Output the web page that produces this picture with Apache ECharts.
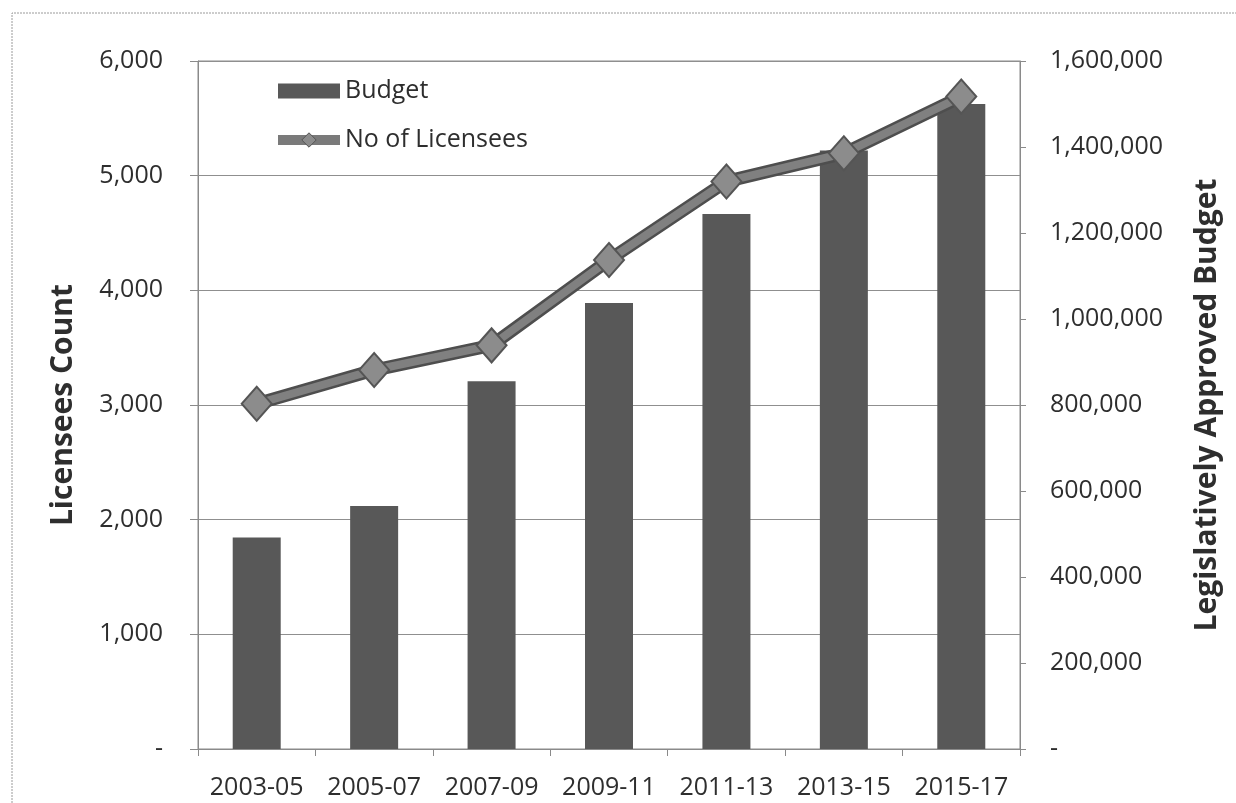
<!DOCTYPE html>
<html>
<head>
<meta charset="utf-8">
<script src="https://cdn.jsdelivr.net/npm/echarts@6/dist/echarts.min.js"></script>
<style>
  html, body { margin: 0; padding: 0; background: #ffffff; }
  #chart { width: 1236px; height: 803px; }
</style>
</head>
<body>
<div id="chart"></div>
<script>
// Biennium periods on the category axis
const periods = ['2003-05', '2005-07', '2007-09', '2009-11', '2011-13', '2013-15', '2015-17'];
// Legislatively approved budget per biennium (right axis)
const budget = [492000, 565000, 855000, 1037000, 1244000, 1392000, 1500000];
// Number of licensees per biennium (left axis)
const licensees = [3010, 3305, 3520, 4265, 4950, 5195, 5690];
// Axis ranges and steps
const countAxis = { min: 0, max: 6000, step: 1000 };
const budgetAxis = { min: 0, max: 1600000, step: 200000 };

const font = '"Open Sans", sans-serif';
const textColor = '#2e2e2e';
const axisGrey = '#8a8a8a';
const fmt = v => (v === 0 ? '-' : v.toLocaleString('en-US'));

const chart = echarts.init(document.getElementById('chart'), null, { renderer: 'canvas' });

chart.setOption({
  backgroundColor: '#ffffff',
  animation: false,
  grid: { left: 198, right: 216, top: 61, bottom: 54, show: true, borderColor: axisGrey, borderWidth: 1 },
  legend: {
    orient: 'vertical',
    left: 268,
    top: 72,
    itemGap: 21,
    itemWidth: 62,
    itemHeight: 18,
    textStyle: { fontFamily: font, fontSize: 25, lineHeight: 28, color: textColor },
    data: [
      { name: 'Budget', icon: 'path://M0,0H54V13H0Z', itemStyle: { color: '#585858' } },
      {
        name: 'No of Licensees',
        lineStyle: { width: 10, color: '#7a7a7a' },
        itemStyle: { color: '#8c8c8c', borderColor: '#555555', borderWidth: 1 }
      }
    ]
  },
  graphic: [
    {
      type: 'polyline',
      silent: true,
      shape: { points: [[12, 803], [12, 13], [1236, 13]] },
      style: { stroke: '#9a9a9a', lineWidth: 1, lineDash: [2, 1], fill: null }
    }
  ],
  xAxis: {
    type: 'category',
    data: periods,
    boundaryGap: true,
    axisLine: { show: true, lineStyle: { color: axisGrey, width: 1 } },
    axisTick: { show: true, alignWithLabel: false, length: 7, lineStyle: { color: axisGrey } },
    axisLabel: { fontFamily: font, fontSize: 25, color: textColor, margin: 26, interval: 0 }
  },
  yAxis: [
    {
      type: 'value',
      min: countAxis.min,
      max: countAxis.max,
      interval: countAxis.step,
      name: 'Licensees Count',
      nameLocation: 'middle',
      nameGap: 120,
      nameTextStyle: { fontFamily: font, fontWeight: 'bold', fontSize: 30, color: textColor },
      axisLine: { show: true, lineStyle: { color: axisGrey, width: 1 } },
      axisTick: { show: true, length: 8, lineStyle: { color: axisGrey } },
      axisLabel: { fontFamily: font, fontSize: 25, color: textColor, margin: 35, formatter: fmt },
      splitLine: { show: true, lineStyle: { color: '#8f8f8f', width: 1 } }
    },
    {
      type: 'value',
      min: budgetAxis.min,
      max: budgetAxis.max,
      interval: budgetAxis.step,
      name: 'Legislatively Approved Budget',
      nameLocation: 'middle',
      nameGap: 172,
      nameRotate: 90,
      nameTextStyle: { fontFamily: font, fontWeight: 'bold', fontSize: 30, color: textColor },
      axisLine: { show: true, lineStyle: { color: axisGrey, width: 1 } },
      axisTick: { show: true, length: 6, lineStyle: { color: axisGrey } },
      axisLabel: { fontFamily: font, fontSize: 25, color: textColor, margin: 30, formatter: fmt },
      splitLine: { show: false }
    }
  ],
  series: [
    {
      name: 'Budget',
      type: 'bar',
      yAxisIndex: 1,
      data: budget,
      barWidth: 48,
      itemStyle: { color: '#585858' },
      z: 2
    },
    {
      // dark edge under the licensee line
      name: 'No of Licensees edge',
      type: 'line',
      yAxisIndex: 0,
      data: licensees,
      symbol: 'none',
      lineStyle: { color: '#4e4e4e', width: 13 },
      silent: true,
      z: 3
    },
    {
      name: 'No of Licensees',
      type: 'line',
      yAxisIndex: 0,
      data: licensees,
      symbol: 'diamond',
      symbolSize: [30, 34],
      lineStyle: { color: '#808080', width: 8 },
      itemStyle: { color: '#8c8c8c', borderColor: '#555555', borderWidth: 2 },
      z: 4
    }
  ]
});
</script>
</body>
</html>
